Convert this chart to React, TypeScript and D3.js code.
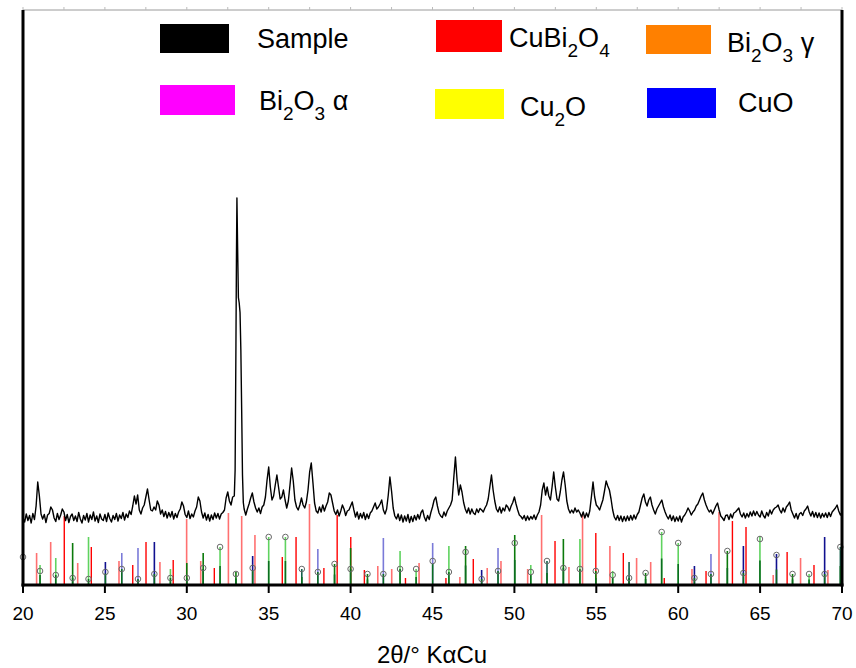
import React from "react";
import * as d3 from "d3";

// ---------- DATA ----------
const xTicks = [20, 25, 30, 35, 40, 45, 50, 55, 60, 65, 70];
const xTitle = "2θ/° KαCu";

// Sample pattern, 20.0° → 70.0° every 0.1° (a.u.)
const sampleStart = 20;
const sampleStep = 0.1;
const sampleIntensity = [
  134,126,142,129,139,124,143,131,158,206,
  178,142,132,141,125,140,143,156,150,134,
  127,143,131,140,152,146,129,141,125,137,
  142,129,138,127,145,132,124,139,130,143,
  126,140,131,146,128,138,125,142,132,129,
  141,127,144,133,126,139,131,143,128,140,
  133,145,130,142,135,148,141,158,178,162,
  180,150,142,154,160,176,192,170,150,148,
  156,150,168,160,142,150,137,147,134,145,
  136,147,132,143,135,146,152,166,158,141,
  135,148,133,142,136,148,156,176,168,146,
  134,144,130,141,128,140,131,144,134,143,
  132,142,145,150,174,186,168,160,176,178,
  480,680,564,470,220,152,140,152,162,174,
  184,166,154,146,154,143,156,160,176,210,
  236,196,170,178,200,220,196,172,176,190,
  170,154,168,200,234,208,170,156,150,160,
  174,160,154,166,190,226,244,205,164,148,
  144,156,146,160,148,158,166,184,180,164,
  148,141,150,138,148,160,152,139,148,150,
  158,166,150,136,146,132,143,134,145,131,
  142,133,144,148,156,164,152,156,162,170,
  150,142,152,180,216,188,154,138,132,142,
  129,140,126,138,128,141,125,137,127,139,
  130,141,132,145,150,136,128,139,131,145,
  156,170,176,158,144,138,135,146,138,148,
  154,160,170,215,256,210,180,200,186,165,
  152,144,154,142,152,144,141,152,145,153,
  150,146,154,160,172,196,220,190,168,152,
  146,156,144,154,148,160,156,148,158,165,
  176,162,150,140,137,132,139,129,138,130,
  137,132,140,131,140,146,160,190,204,180,
  196,178,170,196,226,196,172,168,186,210,
  226,200,168,152,144,150,144,154,146,150,
  144,136,146,134,144,136,148,176,206,176,
  160,156,150,160,170,188,208,198,190,172,
  150,136,130,139,129,138,127,137,128,138,
  129,139,130,140,132,141,146,160,174,182,
  166,158,170,176,160,150,142,152,158,164,
  170,156,146,138,132,140,129,138,127,136,
  128,138,126,136,140,146,154,148,140,146,
  150,158,162,170,178,184,170,160,152,146,
  150,142,150,158,164,150,138,134,129,139,
  140,131,142,134,144,146,150,154,142,136,
  144,134,143,136,146,138,148,139,147,140,
  136,148,139,134,145,138,150,142,150,154,
  156,160,150,144,154,146,156,160,166,150,
  142,134,143,132,142,145,139,148,152,158,
  146,138,147,136,145,135,144,134,143,136,
  144,135,145,137,146,150,154,160,148,140,
  145,
];

// Finer reading of the main reflection (replaces the grid between 32.9° and 33.45°)
const mainPeakTheta = [32.9, 32.95, 33.0, 33.03, 33.06, 33.1, 33.15, 33.2, 33.25, 33.3, 33.35, 33.4, 33.45];
const mainPeakIntensity = [178, 230, 480, 650, 774, 680, 575, 564, 545, 470, 350, 220, 165];

// Reference sticks [2θ, intensity]
const cuBi2O4Strong: [number, number][] = [
  [22.52,138],[24.17,76],[26.70,40],[27.51,86],[29.17,50],[31.68,34],[35.83,56],[36.67,96],
  [38.37,34],[39.18,140],[40.01,96],[40.84,30],[43.35,14],[45.82,14],[47.49,52],[52.48,88],
  [54.97,104],[56.65,64],[59.15,14],[61.70,28],[63.31,128],[64.14,116],[66.65,66],[68.29,40],
];
const cuBi2O4Weak: [number, number][] = [
  [20.83,64],[21.69,86],[23.34,44],[25.86,48],[28.36,46],[29.99,132],[30.85,48],[32.54,144],
  [33.35,138],[34.16,100],[37.49,162],[41.66,38],[42.51,32],[44.18,44],[46.67,16],[48.34,34],
  [49.18,48],[50.81,32],[51.66,140],[53.33,36],[54.16,142],[55.83,78],[57.46,54],[58.32,46],
  [60.84,32],[62.49,146],[65.8,20],[67.47,54],[69.14,30],
];
// [2θ, stick intensity, marker intensity, phase code]
const markedSticks: [number, number, number, string][] = [
  [20.0,56,56,"G"],[21.04,40,28,"G"],[22.0,54,20,"G"],[23.03,84,14,"g"],[24.0,96,12,"G"],
  [25.03,46,26,"b"],[26.03,64,32,"B"],[27.02,74,12,"B"],[28.02,86,22,"b"],[29.0,32,14,"G"],
  [30.0,44,14,"g"],[31.0,64,34,"g"],[32.03,76,76,"G"],[33.0,26,22,"g"],[34.02,58,34,"b"],
  [35.0,96,96,"G"],[36.02,96,96,"G"],[37.02,32,32,"t"],[38.0,72,26,"B"],[39.02,42,42,"g"],
  [40.0,74,32,"g"],[41.03,22,22,"g"],[42.0,94,22,"B"],[43.02,68,32,"G"],[44.0,32,32,"G"],
  [45.01,84,48,"B"],[46.0,78,26,"G"],[47.02,78,66,"g"],[48.0,30,12,"b"],[49.0,74,28,"B"],
  [50.02,100,84,"g"],[51.0,40,26,"G"],[51.99,48,48,"t"],[52.99,92,34,"g"],[54.0,92,32,"G"],
  [54.97,28,28,"g"],[56.0,28,20,"G"],[57.0,46,14,"t"],[58.01,24,24,"g"],[58.99,106,106,"G"],
  [60.0,84,84,"G"],[60.99,38,14,"b"],[62.0,62,22,"B"],[63.0,68,68,"g"],[63.98,78,24,"b"],
  [64.99,98,92,"G"],[66.0,62,60,"b"],[66.98,22,22,"g"],[67.99,22,22,"G"],[68.94,96,22,"b"],
  [69.9,76,76,"t"],
];

type Seg = { t: string; sub?: boolean };
const legendLabels: Seg[][] = [
  [{ t: "Sample" }],
  [{ t: "CuBi" }, { t: "2", sub: true }, { t: "O" }, { t: "4", sub: true }],
  [{ t: "Bi" }, { t: "2", sub: true }, { t: "O" }, { t: "3", sub: true }, { t: " γ" }],
  [{ t: "Bi" }, { t: "2", sub: true }, { t: "O" }, { t: "3", sub: true }, { t: " α" }],
  [{ t: "Cu" }, { t: "2", sub: true }, { t: "O" }],
  [{ t: "CuO" }],
];
const legendColors = ["#000000", "#ff0000", "#ff8000", "#ff00ff", "#ffff00", "#0000ff"];

// ---------- LAYOUT / STYLE ----------
const W = 856, H = 668;
const left = 23, right = 842, top = 10, bottom = 585;
const FONT = "'Liberation Sans', Arial, Helvetica, sans-serif";
const stickColor: Record<string, string> = {
  G: "#5fd35f",
  g: "#0b7a0b",
  B: "#7a7ad8",
  b: "#10108f",
  t: "#14604a",
};
const legendPos = [
  { rx: 160, ry: 24, rw: 69, rh: 29, tx: 257, ty: 48 },
  { rx: 436, ry: 20, rw: 66, rh: 32, tx: 509, ty: 47 },
  { rx: 646, ry: 25, rw: 65, rh: 29, tx: 727, ty: 52 },
  { rx: 160, ry: 85, rw: 75, rh: 30, tx: 259, ty: 110 },
  { rx: 435, ry: 89, rw: 69, rh: 30, tx: 520, ty: 116 },
  { rx: 647, ry: 88, rw: 69, rh: 30, tx: 738, ty: 112 },
];

export default function App() {
  const x = d3.scaleLinear().domain([20, 70]).range([left, right]);
  const y = d3.scaleLinear().domain([0, 1150]).range([bottom, top]);

  const pts: [number, number][] = [];
  sampleIntensity.forEach((v, i) => {
    const th = sampleStart + i * sampleStep;
    if (th < 32.89 || th > 33.46) pts.push([th, v]);
  });
  mainPeakTheta.forEach((th, i) => pts.push([th, mainPeakIntensity[i]]));
  pts.sort((a, b) => a[0] - b[0]);

  const line = d3
    .line<[number, number]>()
    .x((d) => x(d[0]))
    .y((d) => y(d[1]));

  const topTicks = d3.range(20, 70.01, 2.5);

  return (
    <svg
      width={W}
      height={H}
      style={{ position: "absolute", left: 0, top: 0, background: "#fff" }}
      fontFamily={FONT}
    >
      <rect x={0} y={0} width={W} height={H} fill="#fff" />

      {/* reference sticks */}
      <g>
        {cuBi2O4Weak.map(([th, v], i) => (
          <line key={"w" + i} x1={x(th)} x2={x(th)} y1={y(0)} y2={y(v)} stroke="#ff7070" strokeWidth={1.6} />
        ))}
        {cuBi2O4Strong.map(([th, v], i) => (
          <line key={"s" + i} x1={x(th)} x2={x(th)} y1={y(0)} y2={y(v)} stroke="#ff0000" strokeWidth={1.4} />
        ))}
        {markedSticks.map(([th, v, m, k], i) => (
          <g key={"m" + i}>
            <line x1={x(th)} x2={x(th)} y1={y(0)} y2={y(v)} stroke={stickColor[k]} strokeWidth={1.6} />
            <line
              x1={x(th)}
              x2={x(th)}
              y1={y(0)}
              y2={y(Math.min(m, v * 0.5))}
              stroke="#0b6e20"
              strokeWidth={1.6}
            />
            <circle cx={x(th)} cy={y(m)} r={2.8} fill="none" stroke="#6a6a6a" strokeWidth={1} />
          </g>
        ))}
      </g>

      {/* sample pattern */}
      <path d={line(pts) || ""} fill="none" stroke="#000" strokeWidth={1.4} strokeLinejoin="round" />

      {/* frame */}
      <line x1={left} x2={right} y1={top} y2={top} stroke="#9a9a9a" strokeWidth={1} />
      {topTicks.map((t) => (
        <line key={"tt" + t} x1={x(t)} x2={x(t)} y1={top - 3} y2={top} stroke="#bbb" strokeWidth={1} />
      ))}
      <line x1={left} x2={left} y1={top} y2={bottom + 1.5} stroke="#000" strokeWidth={3} />
      <line x1={right} x2={right} y1={top} y2={bottom + 1.5} stroke="#000" strokeWidth={3} />
      <line x1={left - 1.5} x2={right + 1.5} y1={bottom} y2={bottom} stroke="#000" strokeWidth={3} />

      {/* x axis */}
      {xTicks.map((t) => (
        <g key={"xt" + t}>
          <line x1={x(t)} x2={x(t)} y1={bottom} y2={bottom + 8} stroke="#000" strokeWidth={2} />
          <text x={x(t)} y={620} textAnchor="middle" fontSize={19} fill="#000">
            {t}
          </text>
        </g>
      ))}
      <text x={432} y={663} textAnchor="middle" fontSize={24} fill="#000">
        {xTitle}
      </text>

      {/* legend */}
      {legendLabels.map((segs, i) => {
        const p = legendPos[i];
        return (
          <g key={"lg" + i}>
            <rect x={p.rx} y={p.ry} width={p.rw} height={p.rh} fill={legendColors[i]} />
            <text x={p.tx} y={p.ty} fontSize={27} fill="#000">
              {segs.map((s, j) => {
                const prevSub = j > 0 && segs[j - 1].sub;
                const dy = s.sub ? 10 : prevSub ? -10 : 0;
                return (
                  <tspan key={j} dy={dy} fontSize={s.sub ? 19 : 27}>
                    {s.t}
                  </tspan>
                );
              })}
            </text>
          </g>
        );
      })}
    </svg>
  );
}
